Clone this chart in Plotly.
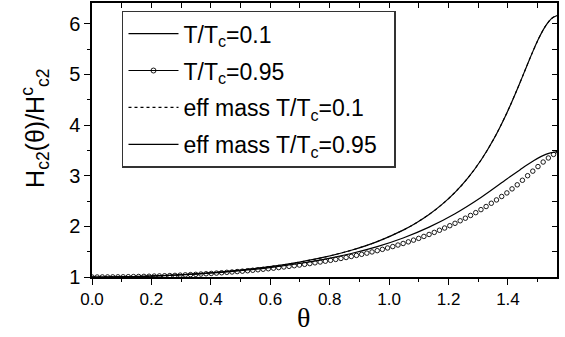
import numpy as np
import plotly.graph_objects as go

# ---- data ----
# smooth curves, sampled in degrees
theta_deg_line = [0, 5, 10, 15, 20, 25, 30, 35, 40, 45, 50, 55, 60, 62.5, 65, 67.5,
                  70, 72.5, 75, 77.5, 80, 82.5, 83.75, 85, 86.25, 87.5, 88.75, 90]
h_low_T = [1.000, 1.004, 1.015, 1.034, 1.062, 1.100, 1.150, 1.213, 1.294, 1.396,
           1.528, 1.699, 1.926, 2.068, 2.235, 2.434, 2.671, 2.958, 3.306, 3.730,
           4.240, 4.830, 5.143, 5.450, 5.732, 5.963, 6.115, 6.170]
h_eff_low_T = [1.000, 1.004, 1.015, 1.034, 1.062, 1.100, 1.150, 1.213, 1.294, 1.396,
               1.528, 1.699, 1.926, 2.068, 2.235, 2.434, 2.671, 2.958, 3.306, 3.730,
               4.240, 4.830, 5.143, 5.450, 5.732, 5.963, 6.115, 6.170]
theta_deg_eff95 = [0, 5, 10, 15, 20, 25, 30, 35, 40, 45, 50, 55, 60, 65, 70, 75, 80,
                   82.5, 85, 87.5, 90]
h_eff_high_T = [1.000, 1.0035, 1.014, 1.032, 1.058, 1.093, 1.138, 1.195, 1.266, 1.354,
                1.464, 1.600, 1.770, 1.985, 2.250, 2.570, 2.935, 3.115, 3.285, 3.420,
                3.480]
# open-circle series, one point per degree 0..90
h_high_T = [1.000, 1.000, 1.001, 1.001, 1.002, 1.003, 1.004, 1.006, 1.008, 1.010,
            1.012, 1.015, 1.018, 1.021, 1.024, 1.028, 1.032, 1.037, 1.042, 1.047,
            1.052, 1.058, 1.064, 1.070, 1.077, 1.084, 1.092, 1.099, 1.107, 1.115,
            1.124, 1.133, 1.143, 1.153, 1.163, 1.174, 1.186, 1.198, 1.210, 1.223,
            1.236, 1.250, 1.265, 1.280, 1.296, 1.312, 1.329, 1.347, 1.366, 1.385,
            1.405, 1.426, 1.448, 1.471, 1.495, 1.520, 1.546, 1.573, 1.601, 1.631,
            1.662, 1.694, 1.728, 1.763, 1.801, 1.840, 1.881, 1.923, 1.967, 2.013,
            2.060, 2.110, 2.161, 2.215, 2.271, 2.330, 2.392, 2.456, 2.522, 2.590,
            2.660, 2.740, 2.820, 2.910, 3.000, 3.090, 3.180, 3.270, 3.350, 3.420,
            3.470]
theta_deg_pts = list(range(0, 91))

x_tick_vals = [0.0, 0.2, 0.4, 0.6, 0.8, 1.0, 1.2, 1.4]
x_tick_text = ["0.0", "0.2", "0.4", "0.6", "0.8", "1.0", "1.2", "1.4"]
y_tick_vals = [1, 2, 3, 4, 5, 6]
x_range = [0, 1.565]
y_range = [1, 6.41]

names = ["T/T<sub>c</sub>=0.1", "T/T<sub>c</sub>=0.95",
         "eff mass T/T<sub>c</sub>=0.1", "eff mass T/T<sub>c</sub>=0.95&nbsp;&nbsp;"]

th_line = np.radians(theta_deg_line)
th_eff95 = np.radians(theta_deg_eff95)
th_pts = np.radians(theta_deg_pts)

fig = go.Figure()
fig.add_trace(go.Scatter(x=th_line, y=h_low_T, mode="lines", name=names[0],
                         line=dict(color="black", width=1.2, shape="spline"),
                         legendgroup="a"))
fig.add_trace(go.Scatter(x=th_pts, y=h_high_T, mode="markers", name=names[1],
                         marker=dict(symbol="circle-open", size=4.5, color="black",
                                     line=dict(width=0.9)),
                         legendgroup="b", showlegend=False))
# legend proxy for the circle series (line + one circle), no data drawn
fig.add_trace(go.Scatter(x=[None], y=[None], mode="lines+markers", name=names[1],
                         line=dict(color="black", width=1.2),
                         marker=dict(symbol="circle-open", size=5, color="black",
                                     line=dict(width=0.9)),
                         legendgroup="b"))
fig.add_trace(go.Scatter(x=th_line, y=h_eff_low_T, mode="lines", name=names[2],
                         line=dict(color="black", width=1.1, dash="dot", shape="spline"),
                         legendgroup="c"))
fig.add_trace(go.Scatter(x=th_eff95, y=h_eff_high_T, mode="lines", name=names[3],
                         line=dict(color="black", width=1.2, shape="spline"),
                         legendgroup="d"))
# dummy trace to activate mirror axes
fig.add_trace(go.Scatter(x=[None], y=[None], xaxis="x2", yaxis="y2",
                         showlegend=False, hoverinfo="skip"))

tickfont_x = dict(family="Liberation Sans, Arial, sans-serif", size=17, color="black")
tickfont_y = dict(family="Liberation Sans, Arial, sans-serif", size=20, color="black")

fig.update_layout(
    width=565, height=337,
    margin=dict(l=92, r=8, t=3, b=60),
    paper_bgcolor="white", plot_bgcolor="white",
    showlegend=True,
    legend=dict(x=0.0645, y=0.972, xanchor="left", yanchor="top",
                bgcolor="white", bordercolor="#333", borderwidth=1.5,
                font=dict(family="Liberation Sans, Arial, sans-serif", size=23, color="black"),
                tracegroupgap=4, itemwidth=50, traceorder="grouped"),
    xaxis=dict(range=x_range, tickvals=x_tick_vals, ticktext=x_tick_text,
               ticks="outside", ticklen=6, tickwidth=1.3, tickcolor="black",
               minor=dict(dtick=0.1, tick0=0, ticks="outside", ticklen=3,
                          tickwidth=1.2, tickcolor="black"),
               showline=True, linewidth=1.5, linecolor="black",
               showgrid=False, zeroline=False, tickfont=tickfont_x),
    yaxis=dict(range=y_range, tickvals=y_tick_vals,
               ticks="outside", ticklen=6, tickwidth=1.3, tickcolor="black",
               minor=dict(dtick=0.5, tick0=0, ticks="outside", ticklen=3,
                          tickwidth=1.2, tickcolor="black"),
               showline=True, linewidth=1.5, linecolor="black",
               showgrid=False, zeroline=False, tickfont=tickfont_y),
    xaxis2=dict(range=x_range, overlaying="x", side="top", anchor="y2",
                dtick=0.1, tick0=0, ticks="inside", ticklen=5, tickwidth=1.2,
                tickcolor="black", showticklabels=False, showline=True,
                linewidth=1.5, linecolor="black", showgrid=False, zeroline=False),
    yaxis2=dict(range=y_range, overlaying="y", side="right", anchor="x2",
                dtick=0.5, tick0=0, ticks="inside", ticklen=5, tickwidth=1.2,
                tickcolor="black", showticklabels=False, showline=True,
                linewidth=1.5, linecolor="black", showgrid=False, zeroline=False),
    annotations=[
        dict(text="θ", xref="paper", yref="paper", x=0.454, y=-0.148,
             xanchor="center", yanchor="middle", showarrow=False,
             font=dict(family="Liberation Serif, Times New Roman, serif", size=28, color="black")),
        dict(text="H<sub>c2</sub>(θ)/H<sup>c</sup><sub>c2</sub>", xref="paper", yref="paper",
             x=-0.1226, y=0.544, xanchor="center", yanchor="middle", textangle=-90,
             showarrow=False,
             font=dict(family="Liberation Sans, Arial, sans-serif", size=25, color="black")),
    ],
)

fig.write_html("out.html", config={"displayModeBar": False},
               post_script="document.body.style.margin='0';document.body.style.overflow='hidden';")
